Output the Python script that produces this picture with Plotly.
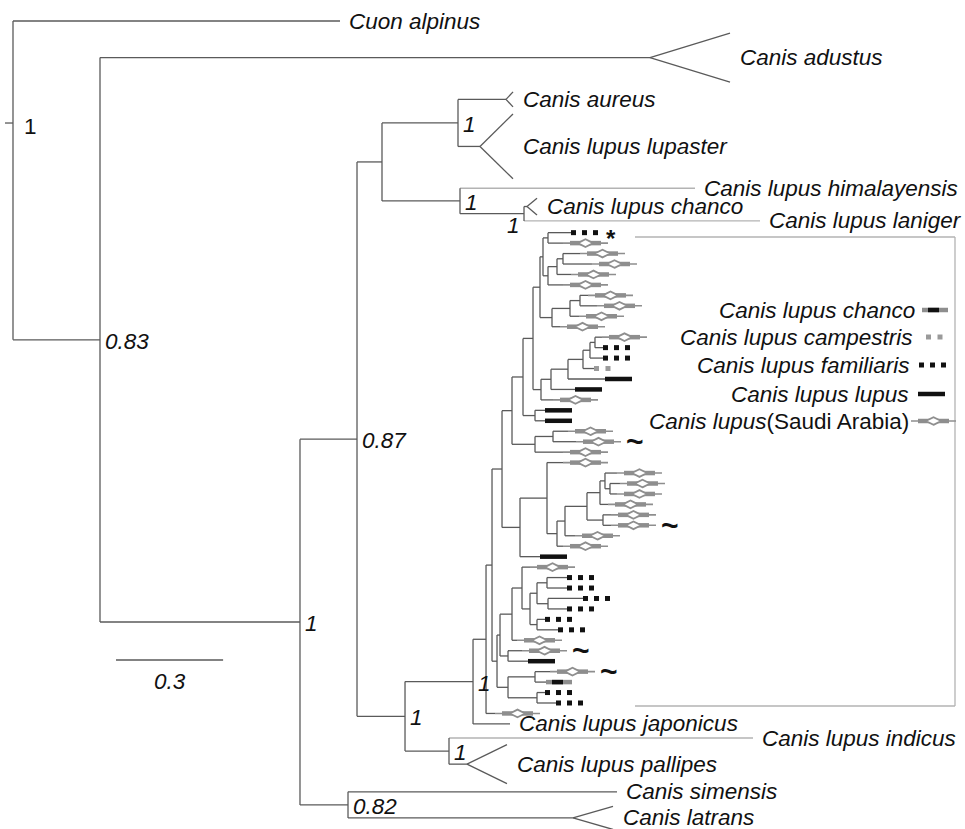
import plotly.graph_objects as go

# ------------------------------------------------------------------
# DATA : tree topology + branch lengths (substitutions / site)
# ------------------------------------------------------------------
sub_1_6 = "((F01:0.0644,S02:0.042):0.014,(((S03:0.0476,S04:0.0812):0.0168,S05:0.0392):0.0252,S06:0.042):0.014)"
sub_7_10 = "(((S07:0.0224,S08:0.0476):0.028,S09:0.0252):0.0504,S10:0.0224)"
sub_11_17 = "((((((S11:0.0196,F12:0.0224):0.014,F13:0.0364):0.0196,C14:0.0308):0.042,L15:0.1036):0.0476,L16:0.0672):0.028,S17:0.0336)"
sub_18_19 = "(L18:0.028,L19:0.028)"
sub_20_22 = "((S20:0.042,S21:0.0644):0.0504,S22:0.0784)"
sub_24_29 = "(((S24:0.0336,(S25:0.028,S26:0.0196):0.014):0.014,S27:0.0224):0.0364,(S28:0.0224,S29:0.0224):0.0448)"
sub_34_39 = "(((F34:0.056,F35:0.056):0.028,(F36:0.098,F37:0.0532):0.0308):0.0196,(F38:0.0224,F39:0.0588):0.0196)"
sub_41_42 = "(S41:0.0392,L42:0.056)"
sub_43_46 = "((S43:0.042,H44:0.0308):0.0756,(F45:0.0224,F46:0.0532):0.0812)"

main_tree = ("(Cuon_alpinus:0.916,(Canis_adustus:1.5406,((((Canis_aureus:0.1345,"
             "Canis_lupus_lupaster:0.0616)1:0.2129,(Canis_lupus_himalayensis:0.6583,"
             "(Canis_lupus_chanco:0.0084,Canis_lupus_laniger:0.6611)1:0.1793)1:0.2185):0.07,"
             "((CLADE:0.0364,Canis_lupus_japonicus:0.1036)1:0.1905,(Canis_lupus_indicus:0.8515,"
             "Canis_lupus_pallipes:0.0504)1:0.1232)1:0.1345)0.87:0.1597,(Canis_simensis:0.7535,"
             "Canis_latrans:0.6303)0.82:0.1345)1:0.5602)0.83:0.2437)1;")

# rows of vertical space taken by each named taxon (clade tips take one row)
leaf_names = ["Cuon_alpinus", "Canis_adustus", "Canis_aureus", "Canis_lupus_lupaster",
              "Canis_lupus_himalayensis", "Canis_lupus_chanco", "Canis_lupus_laniger",
              "Canis_lupus_japonicus", "Canis_lupus_indicus", "Canis_lupus_pallipes",
              "Canis_simensis", "Canis_latrans"]
leaf_rows = [2, 5, 3, 6, 2, 1.5, 1.25, 1, 1.7, 3.3, 2, 3]

# collapsed clades: triangle depth (subst/site) and half-spread (rows)
collapsed_names = ["Canis_adustus", "Canis_aureus", "Canis_lupus_lupaster",
                   "Canis_lupus_chanco", "Canis_lupus_pallipes", "Canis_latrans"]
collapsed_depth = [0.2241, 0.0196, 0.0924, 0.028, 0.112, 0.112]
collapsed_spread = [2.35, 0.72, 3.1, 0.8, 1.87, 1.1]

faint_tips = ["Canis_lupus_himalayensis", "Canis_lupus_laniger", "Canis_lupus_indicus"]
star_tips = ["F01"]
tilde_tips = ["S21", "S29", "S41", "S43"]

legend_labels = ["<i>Canis lupus chanco</i>", "<i>Canis lupus campestris</i>",
                 "<i>Canis lupus familiaris</i>", "<i>Canis lupus lupus</i>",
                 "<i>Canis lupus</i>(Saudi Arabia)"]
legend_kinds = ["H", "C", "F", "L", "S"]
scale_bar_len = 0.3

# ------------------------------------------------------------------
# build clade string
# ------------------------------------------------------------------
g12 = f"({sub_1_6}:0.0084,{sub_7_10}:0.0336)"
g123 = f"({g12}:0.0196,{sub_11_17}:0.0224)"
grpU = f"({g123}:0.028,{sub_18_19}:0.0336)"
grpUG4 = f"({grpU}:0.0308,{sub_20_22}:0.0644)"
grp_e = f"({sub_24_29}:0.0616,S30:0.028)"
grp_g = f"({grp_e}:0.0224,S31:0.0168)"
grpG5 = f"(S23:0.0448,{grp_g}:0.028)"
grpH = f"({grpG5}:0.0756,L32:0.056)"
grpK2 = f"({grpUG4}:0.028,{grpH}:0.0504)"
m3 = f"(S33:0.0224,{sub_34_39}:0.0224)"
m4 = f"({m3}:0.028,S40:0.014)"
m5 = f"({m4}:0.0336,{sub_41_42}:0.0224)"
klow = f"({m5}:0.0084,{sub_43_46}:0.0308)"
k1 = f"({grpK2}:0.028,{klow}:0.014)"
clade = f"({k1}:0.0168,S47:0.0252)"
newick = main_tree.replace("CLADE", clade)

# ------------------------------------------------------------------
# parse + layout
# ------------------------------------------------------------------
def parse(s):
    s = s.strip().rstrip(";")
    pos = [0]

    def node():
        n = {"children": [], "name": "", "len": 0.0}
        if s[pos[0]] == "(":
            pos[0] += 1
            while True:
                n["children"].append(node())
                ch = s[pos[0]]
                pos[0] += 1
                if ch == ")":
                    break
        st = pos[0]
        while pos[0] < len(s) and s[pos[0]] not in ":,()":
            pos[0] += 1
        n["name"] = s[st:pos[0]]
        if pos[0] < len(s) and s[pos[0]] == ":":
            pos[0] += 1
            st = pos[0]
            while pos[0] < len(s) and s[pos[0]] not in ",()":
                pos[0] += 1
            n["len"] = float(s[st:pos[0]])
        return n
    return node()

root = parse(newick)
rows = dict(zip(leaf_names, leaf_rows))
coll = {n: (d, sp) for n, d, sp in zip(collapsed_names, collapsed_depth, collapsed_spread)}
cursor = [0.0]

def place(n, x0):
    n["x"] = x0 + n["len"]
    if not n["children"]:
        h = rows.get(n["name"], 1.0)
        n["y"] = cursor[0] + h / 2
        cursor[0] += h
    else:
        for c in n["children"]:
            place(c, n["x"])
        n["y"] = (n["children"][0]["y"] + n["children"][-1]["y"]) / 2

place(root, 0.0)

# ------------------------------------------------------------------
# pixel helpers (styling only)
# ------------------------------------------------------------------
PX = 1 / 357.0
ROW_PX = 10.452
TOP_PX = 10.55
def xd(px): return (px - 13) * PX
def yd(px): return (px - TOP_PX) / ROW_PX

FONT = "Liberation Sans, Arial, sans-serif"
FS = 22.5
DARK = "#5a5a5a"
FAINT = "#b3b3b3"
SGRAY = "#8e8e8e"

L = {k: ([], []) for k in ["branch", "faint", "sthin", "sthick", "black", "hgray"]}
def seg(key, x0, y0, x1, y1):
    xs, ys = L[key]
    xs += [x0, x1, None]
    ys += [y0, y1, None]

diam_x, diam_y = [], []
fam_x, fam_y = [], []
camp_x, camp_y = [], []
ann = []

def label(text, x, y, xanchor="left", xshift=0, yshift=0, size=FS, italic=True):
    ann.append(dict(text=(f"<i>{text}</i>" if italic else text), x=x, y=y, xref="x", yref="y",
                    xanchor=xanchor, yanchor="middle", xshift=xshift, yshift=yshift,
                    showarrow=False, font=dict(family=FONT, size=size, color="#111")))

def symbol(kind, x, y):
    if kind == "S":
        seg("sthin", x, y, x + 45 * PX, y)
        seg("sthick", x + 7 * PX, y, x + 38 * PX, y)
        diam_x.append(x + 22.5 * PX); diam_y.append(y)
    elif kind == "F":
        for o in (2.5, 13.5, 24.5):
            fam_x.append(x + o * PX); fam_y.append(y)
    elif kind == "C":
        for o in (2.5, 14):
            camp_x.append(x + o * PX); camp_y.append(y)
    elif kind == "L":
        seg("black", x, y, x + 27 * PX, y)
    elif kind == "H":
        seg("hgray", x, y, x + 26 * PX, y)
        seg("black", x + 6 * PX, y, x + 17 * PX, y)

def walk(n, is_root=False):
    if n["children"]:
        cy = [c["y"] for c in n["children"]]
        seg("branch", n["x"], cy[0], n["x"], cy[-1])
        for c in n["children"]:
            seg("faint" if c["name"] in faint_tips else "branch", n["x"], c["y"], c["x"], c["y"])
            walk(c)
        if n["name"] and not is_root:
            first = n["children"][0]
            if first["name"] == "Canis_lupus_chanco":
                label(n["name"], n["x"], n["y"] + 1.1, xanchor="right", xshift=-2)
            else:
                label(n["name"], n["x"], n["y"] + 0.15, xshift=3)
    else:
        name = n["name"]
        if name in coll:
            d, sp = coll[name]
            seg("branch", n["x"], n["y"], n["x"] + d, n["y"] - sp)
            seg("branch", n["x"], n["y"], n["x"] + d, n["y"] + sp)
            label(name.replace("_", " "), n["x"] + d, n["y"], xshift=8)
        elif name in rows:
            label(name.replace("_", " "), n["x"], n["y"], xshift=7)
        else:
            symbol(name[0], n["x"], n["y"])
            if name in star_tips:
                ann.append(dict(text="<b>*</b>", x=n["x"] + 33 * PX, y=n["y"], xref="x", yref="y",
                                xanchor="left", yanchor="middle", yshift=-6, showarrow=False,
                                font=dict(family=FONT, size=24, color="#111")))
            if name in tilde_tips:
                ann.append(dict(text="<b>~</b>", x=n["x"] + 48 * PX, y=n["y"], xref="x", yref="y",
                                xanchor="left", yanchor="middle", showarrow=False,
                                font=dict(family=FONT, size=30, color="#111")))

walk(root, is_root=True)

# root stub + root support
top_child = root["children"][0]["y"]
bot_child = root["children"][-1]["y"]
stub_y = top_child + 0.32 * (bot_child - top_child)
seg("branch", xd(5), stub_y, root["x"], stub_y)
label(root["name"], root["x"], stub_y + 0.3, xshift=9, italic=False)

# clade bracket (decoration)
bx = [xd(635), xd(955), xd(955), xd(635)]
by = [yd(237), yd(237), yd(706), yd(706)]
seg("faint", bx[0], by[0], bx[1], by[1])
seg("faint", bx[1], by[1], bx[2], by[2])
seg("faint", bx[2], by[2], bx[3], by[3])

# scale bar
sb_x0 = xd(116)
seg("branch", sb_x0, yd(660), sb_x0 + scale_bar_len, yd(660))
ann.append(dict(text=f"<i>{scale_bar_len}</i>", x=sb_x0 + scale_bar_len / 2, y=yd(681),
                xref="x", yref="y", xanchor="center", yanchor="middle", showarrow=False,
                font=dict(family=FONT, size=FS, color="#111")))

# legend
leg_rows_px = [310, 337, 365, 394, 421]
leg_text_right = [917, 915, 912, 911, 911]
leg_sym_start = [922, 926, 919, 918, 911]
for t, k, ry, tr, ss in zip(legend_labels, legend_kinds, leg_rows_px, leg_text_right, leg_sym_start):
    ann.append(dict(text=t, x=xd(tr), y=yd(ry), xref="x", yref="y", xanchor="right",
                    yanchor="middle", showarrow=False, font=dict(family=FONT, size=FS, color="#111")))
    symbol(k, xd(ss), yd(ry))

# ------------------------------------------------------------------
# figure
# ------------------------------------------------------------------
fig = go.Figure()
styles = {
    "faint": dict(color=FAINT, width=1.3),
    "branch": dict(color=DARK, width=1.3),
    "sthin": dict(color=SGRAY, width=1.6),
    "sthick": dict(color=SGRAY, width=4.5),
    "hgray": dict(color=SGRAY, width=4.5),
    "black": dict(color="#111111", width=4.5),
}
for key in ["faint", "branch", "sthin", "sthick", "hgray", "black"]:
    xs, ys = L[key]
    fig.add_trace(go.Scatter(x=xs, y=ys, mode="lines", line=styles[key], hoverinfo="skip"))
fig.add_trace(go.Scatter(x=diam_x, y=diam_y, mode="markers", hoverinfo="skip",
                         marker=dict(symbol="diamond-wide", size=11, color="white",
                                     line=dict(color=SGRAY, width=1.8))))
fig.add_trace(go.Scatter(x=fam_x, y=fam_y, mode="markers", hoverinfo="skip",
                         marker=dict(symbol="square", size=5, color="#111111", line=dict(width=0))))
fig.add_trace(go.Scatter(x=camp_x, y=camp_y, mode="markers", hoverinfo="skip",
                         marker=dict(symbol="square", size=5, color="#9a9a9a", line=dict(width=0))))

fig.update_layout(
    width=965, height=829, margin=dict(l=0, r=0, t=0, b=0),
    paper_bgcolor="white", plot_bgcolor="white", showlegend=False,
    xaxis=dict(range=[xd(0), xd(965)], visible=False),
    yaxis=dict(range=[yd(829), yd(0)], visible=False),
    annotations=ann,
)
fig.write_html("out.html", config={"displayModeBar": False},
               post_script="document.body.style.margin='0';document.body.style.overflow='hidden';")
